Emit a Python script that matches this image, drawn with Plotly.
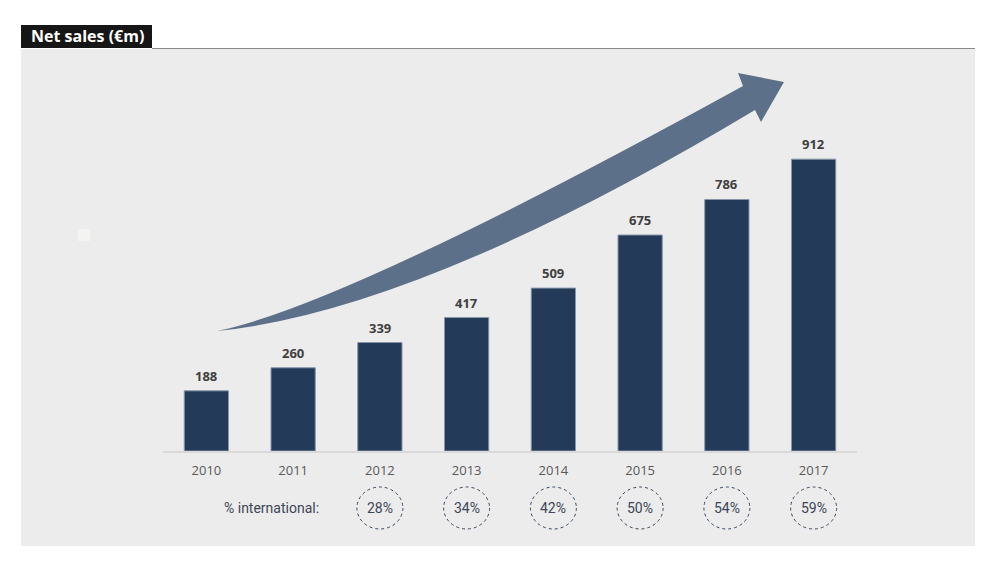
import plotly.graph_objects as go

# ---- data ----
years = ["2010", "2011", "2012", "2013", "2014", "2015", "2016", "2017"]
net_sales = [188, 260, 339, 417, 509, 675, 786, 912]
intl_years = ["2012", "2013", "2014", "2015", "2016", "2017"]
intl_pct = [28, 34, 42, 50, 54, 59]
title_text = "Net sales (€m)"
intl_label = "% international:"

# ---- layout geometry (pixels) ----
W, H = 1004, 569
L, R, T, B = 163, 857, 49, 451
YMAX = (B - T) / 0.32

def px(x):  # pixel -> paper x
    return (x - L) / (R - L)

def py(y):  # pixel -> paper y
    return (B - y) / (B - T)

def dx(x):  # pixel -> data x
    return (x - L) / (R - L) * 8 - 0.5

def dy(y):  # pixel -> data y
    return (B - y) / (B - T) * YMAX

xi = list(range(len(years)))

fig = go.Figure()
fig.add_trace(go.Bar(
    x=xi, y=net_sales,
    marker=dict(color="#233a59", line=dict(color="#8795a8", width=1)),
    width=0.51,
    hoverinfo="skip",
))

shapes = []
# grey panel
shapes.append(dict(type="rect", xref="paper", yref="paper", layer="below",
                   x0=px(21), x1=px(975), y0=py(546), y1=py(49),
                   fillcolor="#ececec", line=dict(width=0)))
# small light square
shapes.append(dict(type="rect", xref="paper", yref="paper", layer="below",
                   x0=px(78), x1=px(90), y0=py(241), y1=py(229),
                   fillcolor="#f3f3f2", line=dict(width=0)))
# header box and rule
shapes.append(dict(type="rect", xref="paper", yref="paper",
                   x0=px(21), x1=px(152), y0=py(48), y1=py(25),
                   fillcolor="#161616", line=dict(width=0)))
shapes.append(dict(type="line", xref="paper", yref="paper",
                   x0=px(152), x1=px(975), y0=py(48.5), y1=py(48.5),
                   line=dict(color="#8a8a8a", width=1)))

# curved arrow (decoration)
def P(x, y):
    return f"{dx(x):.4f},{dy(y):.4f}"

arrow_path = (
    f"M {P(217,331)} Q {P(343.6,305.7)} {P(743,86)} "
    f"L {P(738,73)} L {P(784,82)} L {P(761,122)} L {P(755,110)} "
    f"Q {P(420.6,310.6)} {P(217,331)} Z"
)
shapes.append(dict(type="path", xref="x", yref="y", path=arrow_path,
                   fillcolor="#5c7189", line=dict(width=0), layer="above"))

# dashed ellipses around % international
for yr in intl_years:
    i = years.index(yr)
    shapes.append(dict(type="circle", xref="x", yref="paper",
                       x0=i - 0.265, x1=i + 0.265, y0=py(529), y1=py(487),
                       line=dict(color="#34445f", width=1, dash="dot"),
                       fillcolor="rgba(0,0,0,0)"))

annotations = []
# bar value labels
for i, v in zip(xi, net_sales):
    annotations.append(dict(xref="x", yref="y", x=i, y=v, text=str(v),
                            showarrow=False, yanchor="bottom", xanchor="center",
                            yshift=4,
                            font=dict(family="Open Sans", size=13, color="#3f3f3f",
                                      weight="bold")))
annotations.append(dict(xref="paper", yref="paper", x=px(87), y=py(36.5),
                        text=title_text, showarrow=False,
                        font=dict(family="Open Sans", size=16, color="white", weight="bold"),
                        xanchor="center", yanchor="middle"))
annotations.append(dict(xref="paper", yref="paper", x=px(271), y=py(508),
                        text=intl_label, showarrow=False,
                        font=dict(family="Roboto", size=14, color="#3d4656"),
                        xanchor="center", yanchor="middle"))
for yr, p in zip(intl_years, intl_pct):
    i = years.index(yr)
    annotations.append(dict(xref="x", yref="paper", x=i, y=py(508),
                            text=f"{p}%", showarrow=False,
                            font=dict(family="Roboto", size=14, color="#3d4656"),
                            xanchor="center", yanchor="middle"))

fig.update_layout(
    width=W, height=H,
    margin=dict(l=L, r=W - R, t=T, b=H - B),
    paper_bgcolor="white", plot_bgcolor="rgba(0,0,0,0)",
    showlegend=False,
    shapes=shapes, annotations=annotations,
    xaxis=dict(range=[-0.5, 7.5], tickvals=xi, ticktext=years,
               showgrid=False, zeroline=False, showline=True,
               linecolor="#d9d9d9", linewidth=2, ticks="",
               ticklabelstandoff=6,
               tickfont=dict(family="Open Sans", size=13, color="#595959"),
               fixedrange=True),
    yaxis=dict(range=[0, YMAX], visible=False, fixedrange=True),
)

fig.write_html("out.html")
